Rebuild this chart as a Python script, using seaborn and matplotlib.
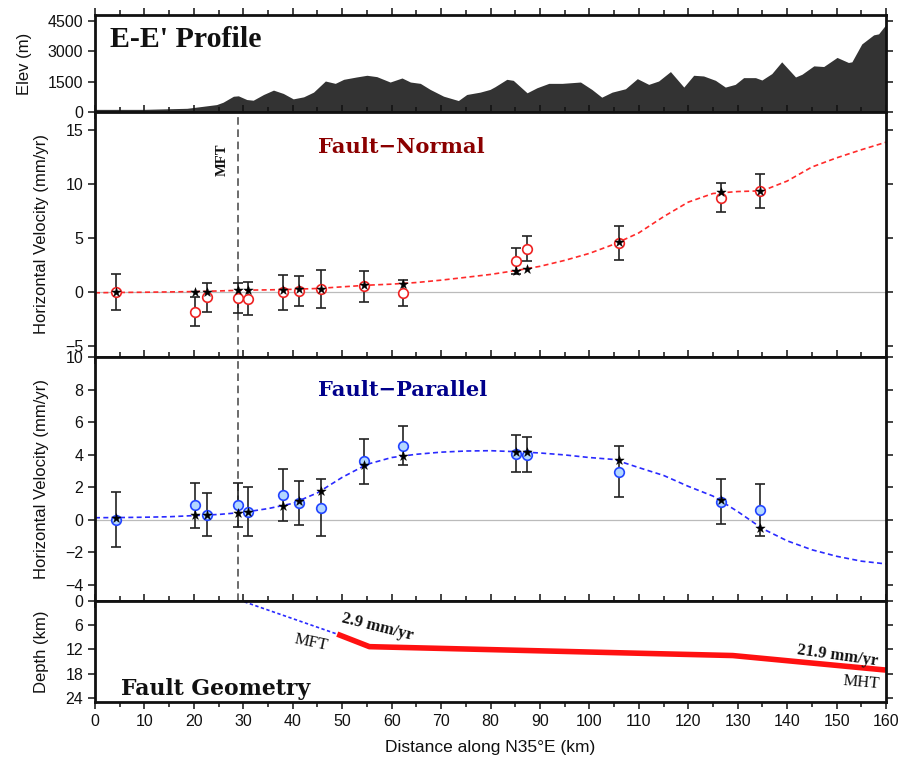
import numpy as np
import pandas as pd
import matplotlib
matplotlib.use("Agg")
import matplotlib.pyplot as plt
import seaborn as sns
from matplotlib.ticker import MultipleLocator, FixedLocator

# ---------------- data ----------------
# topography along the profile
elev_km = [0.0, 9.8, 18.6, 21.9, 24.6, 25.9, 28.0, 29.0, 30.7, 32.0, 34.1, 36.1, 38.1, 40.1,
           42.2, 44.2, 46.6, 48.6, 50.3, 52.9, 55.0, 57.0, 59.7, 62.1, 63.8, 65.8, 67.8,
           70.5, 73.5, 75.2, 77.9, 79.9, 80.9, 83.3, 84.6, 87.4, 89.4, 91.8, 94.5, 98.2,
           100.5, 102.5, 104.6, 107.3, 109.7, 112.0, 114.0, 116.4, 119.1, 121.1, 123.1,
           125.5, 127.5, 129.5, 131.2, 133.6, 134.9, 136.9, 138.9, 141.7, 143.0, 145.4,
           147.4, 150.1, 152.4, 153.1, 155.1, 157.5, 158.5, 160.0]
elev_m = [130, 130, 183, 283, 367, 483, 780, 800, 617, 583, 867, 1083, 917, 650,
          750, 983, 1533, 1417, 1617, 1733, 1817, 1750, 1483, 1683, 1483, 1417, 1117,
          783, 567, 867, 983, 1117, 1250, 1617, 1567, 950, 1200, 1417, 1417, 1483,
          1117, 733, 983, 1150, 1650, 1367, 1533, 2000, 1233, 1817, 1783,
          1567, 1233, 1367, 1700, 1700, 1583, 1900, 2483, 1733, 1867, 2283,
          2250, 2700, 2450, 2483, 3367, 3817, 3867, 4333]

# GPS sites: distance, observed velocity, 1-sigma, modelled velocity
site_km = [4.25, 20.3, 22.6, 28.9, 30.9, 38.0, 41.2, 45.7, 54.5, 62.4, 85.2, 87.4, 105.9, 126.7, 134.6]
fn_obs = [0.0, -1.8, -0.46, -0.52, -0.58, 0.0, 0.13, 0.3, 0.56, -0.03, 2.88, 4.04, 4.58, 8.77, 9.34]
fn_err = [1.65, 1.36, 1.33, 1.36, 1.5, 1.6, 1.36, 1.75, 1.45, 1.2, 1.2, 1.16, 1.55, 1.35, 1.58]
fn_mod = [0.0, 0.06, 0.06, 0.19, 0.19, 0.25, 0.3, 0.3, 0.65, 0.8, 2.0, 2.17, 4.64, 9.28, 9.37]
fp_obs = [0.0, 0.88, 0.31, 0.9, 0.48, 1.53, 1.0, 0.74, 3.58, 4.55, 4.06, 3.99, 2.94, 1.11, 0.58]
fp_err = [1.69, 1.37, 1.34, 1.36, 1.51, 1.61, 1.35, 1.77, 1.4, 1.2, 1.12, 1.09, 1.56, 1.38, 1.61]
fp_mod = [0.1, 0.26, 0.31, 0.41, 0.47, 0.82, 1.13, 1.77, 3.35, 3.93, 4.17, 4.15, 3.66, 1.19, -0.49]

# model prediction along the profile
curve_km = [0, 5, 10, 15, 20, 25, 30, 35, 40, 45, 50, 55, 60, 65, 70, 75, 80, 85, 90,
            95, 100, 105, 110, 115, 120, 125, 130, 135, 140, 145, 150, 155, 160]
fn_curve = [-0.05, -0.02, 0.0, 0.03, 0.06, 0.12, 0.19, 0.22, 0.27, 0.35, 0.5, 0.65, 0.75,
            0.9, 1.12, 1.38, 1.65, 2.0, 2.4, 2.95, 3.6, 4.45, 5.5, 7.0, 8.35, 9.15, 9.33,
            9.4, 10.3, 11.6, 12.45, 13.2, 13.9]
fp_curve = [0.12, 0.13, 0.15, 0.18, 0.25, 0.32, 0.45, 0.68, 1.0, 1.65, 2.6, 3.4, 3.82,
            4.02, 4.15, 4.22, 4.24, 4.18, 4.1, 3.98, 3.82, 3.7, 3.2, 2.72, 2.05, 1.45, 0.5,
            -0.55, -1.3, -1.85, -2.25, -2.55, -2.72]

# fault geometry
mft_km = 28.9
blind_km = [30.2, 49.0]
blind_depth = [0.2, 8.2]
fault_km = [49.0, 55.5, 129.0, 160.0]
fault_depth = [8.2, 11.3, 13.5, 17.1]

# ---------------- style ----------------
sns.set_theme(style="ticks")
plt.rcParams["font.family"] = ["Liberation Sans", "DejaVu Sans"]
plt.rcParams["axes.unicode_minus"] = True

fig = plt.figure(figsize=(9.02, 7.65), dpi=100)
W, H = 902, 765
left, right = 95 / W, 886 / W


def panel(top_px, bot_px):
    return fig.add_axes([left, 1 - bot_px / H, right - left, (bot_px - top_px) / H])


ax1 = panel(15, 112)
ax2 = panel(112, 357)
ax3 = panel(357, 601)
ax4 = panel(601, 702)
axes = [ax1, ax2, ax3, ax4]

for ax in axes:
    ax.set_xlim(0, 160)
    ax.xaxis.set_major_locator(MultipleLocator(10))
    ax.xaxis.set_minor_locator(MultipleLocator(5))
    ax.tick_params(which="both", direction="out", top=True, right=True,
                   labelsize=11.5, colors="#111111", width=1.1)
    ax.tick_params(which="major", length=5)
    ax.tick_params(which="minor", length=3.5)
    for s in ax.spines.values():
        s.set_linewidth(2.0)
        s.set_color("#111111")
    ax.set_facecolor("white")
    if ax is not ax4:
        ax.tick_params(axis="x", labelbottom=False)

label_kw = dict(fontsize=12, color="#111111")

# ---- elevation ----
ax1.fill_between(elev_km, 0, elev_m, color="#333333", lw=0)
ax1.set_ylim(0, 4800)
ax1.yaxis.set_major_locator(FixedLocator([0, 1500, 3000, 4500]))
ax1.set_ylabel("Elev (m)", **label_kw)
ax1.yaxis.set_label_coords(-0.08, 0.5)
ax1.text(3.0, 3600, "E-E' Profile", fontsize=21.5, fontweight="bold",
         family="Liberation Serif", va="center", ha="left", color="#111111")


def velocity_panel(ax, obs, err, mod, curve, line_color, face, edge):
    df = pd.DataFrame({"km": site_km, "obs": obs, "err": err, "mod": mod})
    cdf = pd.DataFrame({"km": curve_km, "v": curve})
    ax.axhline(0, color="#bbbbbb", lw=0.9, zorder=1)
    sns.lineplot(data=cdf, x="km", y="v", ax=ax, color=line_color, lw=1.2,
                 linestyle=(0, (3, 2)), zorder=2, sort=False)
    ax.errorbar(df["km"], df["obs"], yerr=df["err"], fmt="none", ecolor="#222222",
                elinewidth=1.2, capsize=3.5, capthick=1.2, zorder=3)
    sns.scatterplot(data=df, x="km", y="obs", ax=ax, marker="o", s=48,
                    facecolor=face, edgecolor=edge, linewidth=1.2, zorder=4)
    sns.scatterplot(data=df, x="km", y="mod", ax=ax, marker="*", s=50,
                    color="black", edgecolor="black", linewidth=0.3, zorder=5)
    ax.axvline(mft_km, color="#444444", lw=1.1, linestyle=(0, (5, 3)), zorder=1)
    ax.set_xlabel("")
    ax.set_ylabel("Horizontal Velocity (mm/yr)", **label_kw)
    ax.yaxis.set_label_coords(-0.058, 0.5)


# ---- fault-normal ----
velocity_panel(ax2, fn_obs, fn_err, fn_mod, fn_curve, "#ff2a2a", "white", "#ee2222")
ax2.set_ylim(-6, 16.7)
ax2.yaxis.set_major_locator(FixedLocator([-5, 0, 5, 10, 15]))
ax2.text(62, 13.5, "Fault\u2212Normal", color="#8b0000", fontsize=15.1,
         fontweight="bold", family="DejaVu Serif", ha="center", va="center")
ax2.text(25.7, 12.3, "MFT", rotation=90, fontsize=10.5, fontweight="bold",
         family="Liberation Serif", ha="center", va="center", color="#111111")

# ---- fault-parallel ----
velocity_panel(ax3, fp_obs, fp_err, fp_mod, fp_curve, "#2a2aff", "#b3d7ff", "#2244ff")
ax3.set_ylim(-5, 10)
ax3.yaxis.set_major_locator(FixedLocator([-4, -2, 0, 2, 4, 6, 8, 10]))
ax3.text(62.2, 8.0, "Fault\u2212Parallel", color="#00008b", fontsize=15.1,
         fontweight="bold", family="DejaVu Serif", ha="center", va="center")

# ---- fault geometry ----
ax4.set_ylim(25, 0)
ax4.yaxis.set_major_locator(FixedLocator([0, 6, 12, 18, 24]))
ax4.plot(blind_km, blind_depth, color="#2a2aff", lw=1.2, linestyle=(0, (2, 1.5)))
sns.lineplot(x=fault_km, y=fault_depth, ax=ax4, color="#ff1111", lw=4,
             sort=False, solid_capstyle="butt")
ax4.set_ylabel("Depth (km)", **label_kw)
ax4.yaxis.set_label_coords(-0.058, 0.5)
ax4.set_xlabel("Distance along N35\u00b0E (km)", fontsize=12.5, color="#111111", labelpad=8)
serif = dict(family="Liberation Serif", color="#111111")
ax4.text(57.2, 6.4, "2.9 mm/yr", rotation=-14, fontsize=12, fontweight="bold",
         ha="center", va="center", **serif)
ax4.text(43.8, 10.2, "MFT", rotation=-12, fontsize=12, ha="center", va="center", **serif)
ax4.text(150.1, 13.5, "21.9 mm/yr", rotation=-8, fontsize=12, fontweight="bold",
         ha="center", va="center", **serif)
ax4.text(155.0, 20.2, "MHT", rotation=-5, fontsize=12, ha="center", va="center", **serif)
ax4.text(5.3, 21.9, "Fault Geometry", fontsize=15.8, fontweight="bold",
         family="DejaVu Serif", color="#111111", ha="left", va="center")

fig.savefig("out.png", dpi=100)
